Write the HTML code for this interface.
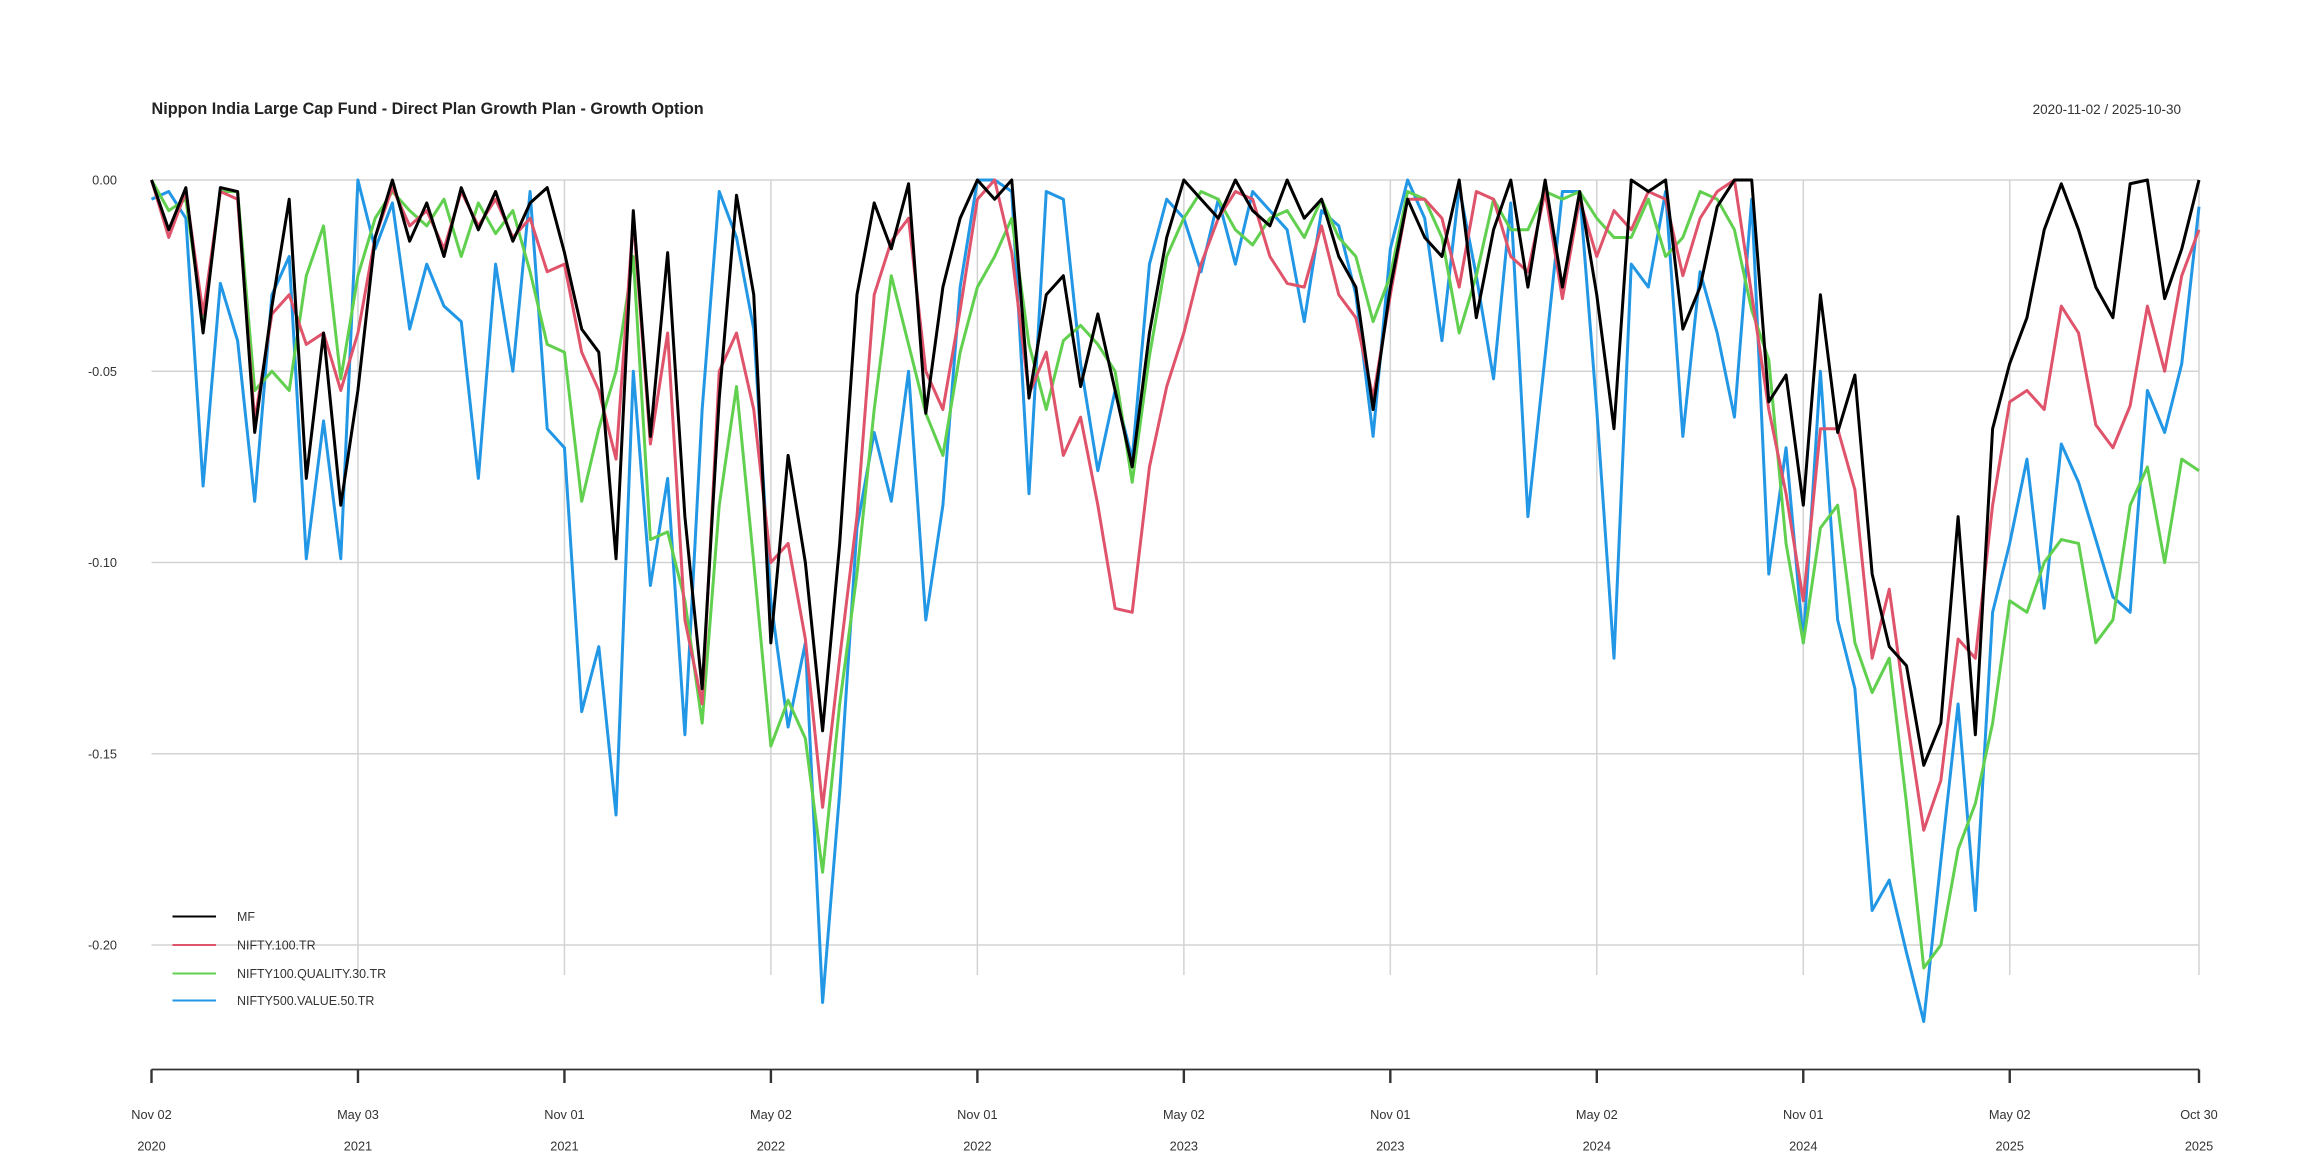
<!DOCTYPE html>
<html><head><meta charset="utf-8"><style>
html,body{margin:0;padding:0;background:#fff;}
svg{display:block;font-family:"Liberation Sans",sans-serif;}
</style></head><body>
<svg id="chart" width="2304" height="1152" viewBox="0 0 1536 768" xmlns="http://www.w3.org/2000/svg">
<text x="101" y="76" font-size="10.8" font-weight="bold" fill="#222">Nippon India Large Cap Fund - Direct Plan Growth Plan - Growth Option</text>
<text x="1454" y="76" font-size="9" fill="#333" text-anchor="end">2020-11-02 / 2025-10-30</text>
<g id="grid"></g>
<g id="axes"></g>
<g id="series"></g>
<g id="legend"></g>
</svg>
<script>
const yTicks = [0, -5, -10, -15, -20];
const yTickLabels = ["0.00", "-0.05", "-0.10", "-0.15", "-0.20"];
const xTickIdx = [0, 12, 24, 36, 48, 60, 72, 84, 96, 108, 119];
const xTickLabels1 = ["Nov 02","May 03","Nov 01","May 02","Nov 01","May 02","Nov 01","May 02","Nov 01","May 02","Oct 30"];
const xTickLabels2 = ["2020","2021","2021","2022","2022","2023","2023","2024","2024","2025","2025"];
const seriesNames = ["MF","NIFTY.100.TR","NIFTY100.QUALITY.30.TR","NIFTY500.VALUE.50.TR"];
const mf = [0,-1.3,-0.2,-4,-0.2,-0.3,-6.6,-3.3,-0.5,-7.8,-4,-8.5,-5.5,-1.5,0,-1.6,-0.6,-2,-0.2,-1.3,-0.3,-1.6,-0.6,-0.2,-1.9,-3.9,-4.5,-9.9,-0.8,-6.7,-1.9,-8.8,-13.3,-5.7,-0.4,-3,-12.1,-7.2,-10,-14.4,-9.5,-3,-0.6,-1.8,-0.1,-6.1,-2.8,-1,0,-0.5,0,-5.7,-3,-2.5,-5.4,-3.5,-5.5,-7.5,-4,-1.5,0,-0.5,-1,0,-0.8,-1.2,0,-1,-0.5,-2,-2.8,-6,-2.8,-0.5,-1.5,-2,0,-3.6,-1.3,0,-2.8,0,-2.8,-0.3,-3,-6.5,0,-0.3,0,-3.9,-2.8,-0.7,0,0,-5.8,-5.1,-8.5,-3,-6.6,-5.1,-10.3,-12.2,-12.7,-15.3,-14.2,-8.8,-14.5,-6.5,-4.8,-3.6,-1.3,-0.1,-1.3,-2.8,-3.6,-0.1,0,-3.1,-1.8,0];
const nifty100 = [0,-1.5,-0.3,-3.5,-0.3,-0.5,-6.3,-3.5,-3,-4.3,-4,-5.5,-4,-1.5,-0.2,-1.2,-0.8,-1.8,-0.3,-1.2,-0.5,-1.5,-1,-2.4,-2.2,-4.5,-5.5,-7.3,-1,-6.9,-4,-11.5,-13.7,-5,-4,-6,-10,-9.5,-12,-16.4,-12.5,-8.8,-3,-1.6,-1,-5,-6,-3.4,-0.5,0,-1.9,-5.6,-4.5,-7.2,-6.2,-8.5,-11.2,-11.3,-7.5,-5.4,-4,-2.2,-1,-0.3,-0.5,-2,-2.7,-2.8,-1.2,-3,-3.6,-5.7,-3,-0.5,-0.5,-1,-2.8,-0.3,-0.5,-2,-2.4,-0.3,-3.1,-0.5,-2,-0.8,-1.3,-0.3,-0.5,-2.5,-1,-0.3,0,-3,-6,-8.2,-11,-6.5,-6.5,-8.1,-12.5,-10.7,-14,-17,-15.7,-12,-12.5,-8.5,-5.8,-5.5,-6,-3.3,-4,-6.4,-7,-5.9,-3.3,-5,-2.5,-1.3];
const quality30 = [0,-0.8,-0.5,-3.8,-0.3,-0.3,-5.5,-5,-5.5,-2.5,-1.2,-5.2,-2.5,-1,-0.3,-0.8,-1.2,-0.5,-2,-0.6,-1.4,-0.8,-2.4,-4.3,-4.5,-8.4,-6.5,-5,-2,-9.4,-9.2,-11,-14.2,-8.5,-5.4,-10,-14.8,-13.6,-14.6,-18.1,-13.7,-10.3,-6,-2.5,-4.3,-6.1,-7.2,-4.5,-2.8,-2,-1,-4.3,-6,-4.2,-3.8,-4.3,-5,-7.9,-4.6,-2,-1,-0.3,-0.5,-1.3,-1.7,-1,-0.8,-1.5,-0.5,-1.5,-2,-3.7,-2.5,-0.3,-0.5,-1.5,-4,-2.5,-0.5,-1.3,-1.3,-0.3,-0.5,-0.3,-1,-1.5,-1.5,-0.5,-2,-1.5,-0.3,-0.5,-1.3,-3.4,-4.7,-9.5,-12.1,-9.1,-8.5,-12.1,-13.4,-12.5,-16.3,-20.6,-20,-17.5,-16.3,-14.2,-11,-11.3,-10,-9.4,-9.5,-12.1,-11.5,-8.5,-7.5,-10,-7.3,-7.6];
const value50 = [-0.5,-0.3,-1,-8,-2.7,-4.2,-8.4,-3,-2,-9.9,-6.3,-9.9,0,-1.8,-0.6,-3.9,-2.2,-3.3,-3.7,-7.8,-2.2,-5,-0.3,-6.5,-7,-13.9,-12.2,-16.6,-5,-10.6,-7.8,-14.5,-6,-0.3,-1.5,-3.9,-11,-14.3,-12.1,-21.5,-16,-9.1,-6.6,-8.4,-5,-11.5,-8.5,-2.8,0,0,-0.3,-8.2,-0.3,-0.5,-4.8,-7.6,-5.5,-7.3,-2.2,-0.5,-1,-2.4,-0.5,-2.2,-0.3,-0.8,-1.3,-3.7,-0.8,-1.2,-3,-6.7,-1.8,0,-1,-4.2,-0.2,-2.5,-5.2,-0.6,-8.8,-4.6,-0.3,-0.3,-6,-12.5,-2.2,-2.8,-0.3,-6.7,-2.4,-4,-6.2,-0.5,-10.3,-7,-12.1,-5,-11.5,-13.3,-19.1,-18.3,-20.2,-22,-17.8,-13.7,-19.1,-11.3,-9.5,-7.3,-11.2,-6.9,-7.9,-9.4,-10.9,-11.3,-5.5,-6.6,-4.8,-0.7];

const NS = "http://www.w3.org/2000/svg";
const X0 = 101, X1 = 1466, Y0 = 120, PER = 25.5;
const N = mf.length;
function xPos(i){ return X0 + i * (X1 - X0) / (N - 1); }
function yPos(v){ return Y0 - v * PER; }
function mk(tag, attrs, parent){
  const e = document.createElementNS(NS, tag);
  for (const k in attrs) e.setAttribute(k, attrs[k]);
  parent.appendChild(e);
  return e;
}
const grid = document.getElementById('grid');
const axes = document.getElementById('axes');
yTicks.forEach((t, k) => {
  const l = mk('line', {x1: X0, x2: X1, y1: yPos(t), y2: yPos(t), stroke: '#d3d3d3', 'stroke-width': 1}, grid);
  
  
  const tx = mk('text', {x: 78, y: yPos(t) + 3, 'font-size': 8.5, fill: '#333', 'text-anchor': 'end'}, axes);
  tx.textContent = yTickLabels[k];
  
  
});
xTickIdx.forEach((idx, k) => {
  const x = xPos(idx);
  if (k > 0) {
    const g = mk('line', {x1: x, x2: x, y1: Y0, y2: 650, stroke: '#d3d3d3', 'stroke-width': 1}, grid);
    
    
  }
  const t = mk('line', {x1: x, x2: x, y1: 713, y2: 722, stroke: '#333', 'stroke-width': 1.6}, axes);
  
  
  const a = mk('text', {x: x, y: 746, 'font-size': 8.5, fill: '#333', 'text-anchor': 'middle'}, axes);
  a.textContent = xTickLabels1[k];
  
  
  const b = mk('text', {x: x, y: 767, 'font-size': 8.5, fill: '#333', 'text-anchor': 'middle'}, axes);
  b.textContent = xTickLabels2[k];
  
  
});
const axl = mk('line', {x1: X0, x2: X1, y1: 713, y2: 713, stroke: '#333', 'stroke-width': 1.2}, axes);



const seriesG = document.getElementById('series');
const data = [value50, quality30, nifty100, mf];
const colors = ['#2297E6', '#61D04F', '#DF536B', '#000000'];
const names = ['series-value50', 'series-quality30', 'series-nifty100', 'series-mf'];
data.forEach((arr, s) => {
  const d = arr.map((v, i) => (i ? 'L' : 'M') + xPos(i).toFixed(1) + ' ' + yPos(v).toFixed(1)).join(' ');
  const p = mk('path', {d: d, fill: 'none', stroke: colors[s], 'stroke-width': 2, 'stroke-linejoin': 'round'}, seriesG);
  
  
});
const lg = document.getElementById('legend');
const lgColors = ['#000000', '#DF536B', '#61D04F', '#2297E6'];
const lgY = [611, 630, 649, 667];
seriesNames.forEach((n, k) => {
  const l = mk('line', {x1: 115, x2: 144, y1: lgY[k], y2: lgY[k], stroke: lgColors[k], 'stroke-width': 1.3}, lg);
  
  
  const t = mk('text', {x: 158, y: lgY[k] + 3, 'font-size': 8.3, fill: '#333'}, lg);
  t.textContent = n;
  
  
});
</script>
</body></html>
